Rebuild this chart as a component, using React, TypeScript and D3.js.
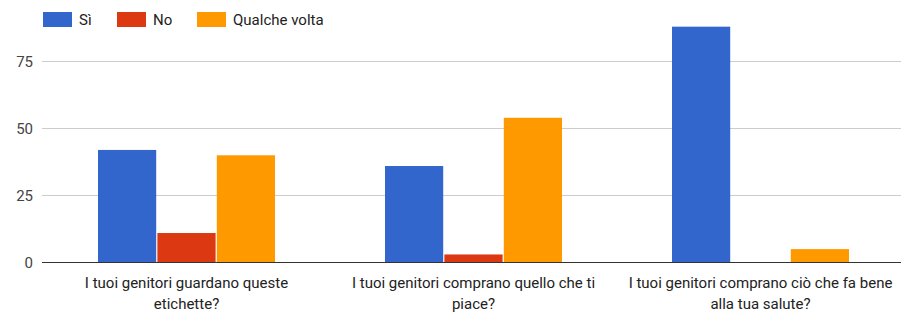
import React from "react";
import * as d3 from "d3";

const categories = [
  ["I tuoi genitori guardano queste", "etichette?"],
  ["I tuoi genitori comprano quello che ti", "piace?"],
  ["I tuoi genitori comprano ciò che fa bene", "alla tua salute?"],
];
const seriesNames = ["Sì", "No", "Qualche volta"];
const siValues = [42, 36, 88];
const noValues = [11, 3, 0];
const qualcheValues = [40, 54, 5];
const yTicks = [0, 25, 50, 75];
const colors = ["#3366cc", "#dc3912", "#ff9900"];

const W = 901;
const H = 313;
const left = 43;
const right = 904;
const zeroY = 262.5;

export default function App() {
  const series = [siValues, noValues, qualcheValues];
  const x0 = d3.scaleBand<number>().domain([0, 1, 2]).range([left, right]).paddingInner(0).paddingOuter(0);
  const groupInner = 177;
  const x1 = d3
    .scaleBand<number>()
    .domain([0, 1, 2])
    .range([0, groupInner])
    .paddingInner(0.02);
  const y = d3.scaleLinear().domain([0, 75]).range([zeroY, 61.5]);
  const font = "Roboto, Arial, sans-serif";
  const legendX = [43, 117, 197];

  return (
    <svg
      width={W}
      height={H}
      style={{ position: "absolute", left: 0, top: 0, display: "block" }}
      fontFamily={font}
    >
      <rect width={W} height={H} fill="#fff" />
      {seriesNames.map((n, i) => (
        <g key={n}>
          <rect x={legendX[i]} y={12} width={29} height={15} fill={colors[i]} />
          <text x={legendX[i] + 36} y={25} fontSize={15} fill="#222">
            {n}
          </text>
        </g>
      ))}
      {yTicks.map((t) => (
        <g key={t}>
          {t !== 0 && (
            <line x1={42} x2={W} y1={y(t)} y2={y(t)} stroke="#ccc" strokeWidth={1} />
          )}
          <text x={33} y={y(t) + 5} fontSize={15} fill="#444" textAnchor="end">
            {t}
          </text>
        </g>
      ))}
      {categories.map((c, ci) => {
        const gx = x0(ci)! + x0.bandwidth() / 2 - groupInner / 2;
        return (
          <g key={ci}>
            {series.map((s, si) =>
              s[ci] > 0 ? (
                <rect
                  key={si}
                  x={gx + x1(si)!}
                  y={y(s[ci])}
                  width={x1.bandwidth()}
                  height={y(0) - y(s[ci])}
                  fill={colors[si]}
                />
              ) : null
            )}
            {c.map((line, li) => (
              <text
                key={li}
                x={x0(ci)! + x0.bandwidth() / 2}
                y={288 + li * 21}
                fontSize={15}
                fill="#222"
                textAnchor="middle"
              >
                {line}
              </text>
            ))}
          </g>
        );
      })}
      <line x1={42} x2={W} y1={y(0)} y2={y(0)} stroke="#333" strokeWidth={1} />
    </svg>
  );
}
